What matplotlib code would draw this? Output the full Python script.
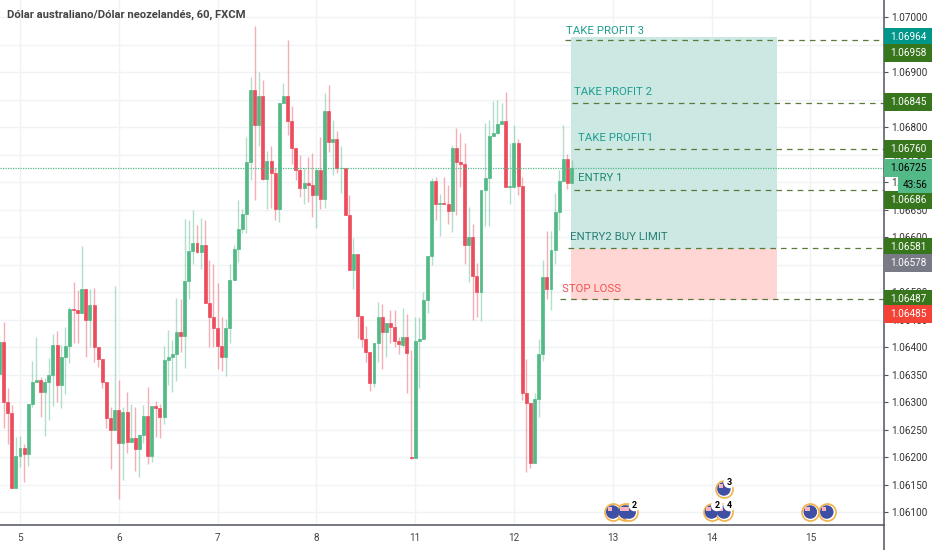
import numpy as np
import matplotlib
matplotlib.use('Agg')
import matplotlib.pyplot as plt
from matplotlib.patches import Rectangle
from matplotlib.lines import Line2D

plt.rcParams['font.family'] = ['Roboto', 'DejaVu Sans']

# prices as points above 1.00000, one entry per hourly bar
opens = [6352,6409,6301,6280,6143,6202,6216,6206,6296,6336,
         6340,6319,6336,6350,6403,6331,6382,6402,6470,6467,
         6462,6505,6449,6477,6400,6379,6337,6271,6249,6285,
         6226,6282,6228,6235,6215,6240,6274,6202,6293,6289,
         6273,6376,6382,6387,6428,6421,6521,6574,6589,6573,
         6586,6481,6455,6435,6402,6382,6435,6522,6578,6615,
         6642,6736,6867,6804,6857,6706,6738,6716,6651,6844,
         6856,6812,6762,6722,6689,6698,6695,6677,6722,6669,
         6830,6774,6778,6725,6725,6641,6541,6569,6456,6414,
         6391,6335,6408,6454,6428,6444,6436,6411,6403,6419,
         6200,6198,6411,6414,6485,6566,6703,6660,6662,6661,
         6647,6763,6737,6734,6585,6600,6529,6501,6686,6707,
         6784,6789,6806,6812,6692,6692,6771,6694,6317,6299,
         6190,6305,6388,6528,6505,6576,6646,6702,6743,6699]
closes = [6409,6301,6280,6143,6202,6216,6206,6296,6336,6340,
          6319,6336,6350,6403,6331,6382,6402,6470,6467,6462,
          6505,6449,6477,6400,6379,6337,6271,6249,6285,6226,
          6282,6228,6235,6215,6240,6274,6202,6293,6289,6273,
          6376,6382,6387,6428,6421,6521,6574,6589,6573,6586,
          6481,6455,6435,6402,6382,6435,6522,6578,6615,6642,
          6736,6867,6804,6857,6706,6738,6716,6651,6844,6856,
          6812,6762,6722,6689,6698,6695,6677,6722,6669,6830,
          6774,6778,6725,6726,6641,6541,6569,6456,6414,6391,
          6335,6408,6454,6428,6444,6436,6411,6405,6419,6390,
          6198,6411,6414,6485,6566,6703,6660,6662,6660,6647,
          6763,6737,6734,6585,6600,6529,6501,6686,6707,6784,
          6789,6806,6812,6692,6693,6771,6694,6317,6299,6190,
          6305,6388,6528,6505,6576,6646,6702,6743,6699,6725]
highs = [6420,6445,6325,6294,6237,6238,6223,6296,6374,6419,
         6346,6343,6381,6423,6429,6403,6437,6473,6518,6504,
         6584,6505,6505,6507,6400,6379,6337,6291,6512,6340,
         6291,6319,6296,6291,6240,6294,6328,6293,6302,6296,
         6402,6431,6413,6489,6487,6633,6631,6650,6622,6634,
         6632,6558,6552,6516,6455,6452,6552,6586,6668,6652,
         6783,6891,6984,6901,6886,6757,6765,6725,6844,6880,
         6959,6839,6762,6749,6725,6746,6754,6725,6783,6863,
         6876,6813,6793,6766,6725,6677,6598,6569,6456,6438,
         6391,6408,6482,6478,6444,6467,6467,6419,6472,6461,
         6394,6455,6455,6501,6566,6707,6710,6678,6709,6695,
         6768,6799,6789,6772,6655,6624,6553,6686,6808,6813,
         6848,6850,6844,6865,6771,6805,6778,6710,6379,6299,
         6317,6414,6559,6612,6612,6681,6722,6804,6751,6740]
lows = [6340,6252,6223,6143,6143,6182,6155,6184,6291,6336,
        6273,6239,6268,6293,6300,6290,6314,6371,6407,6407,
        6462,6382,6400,6373,6364,6325,6252,6179,6249,6124,
        6158,6208,6228,6175,6163,6225,6187,6191,6237,6235,
        6260,6331,6319,6339,6391,6362,6487,6552,6572,6543,
        6481,6400,6400,6361,6357,6347,6407,6522,6554,6607,
        6607,6704,6668,6766,6704,6652,6654,6631,6628,6844,
        6786,6734,6704,6674,6661,6664,6636,6617,6652,6654,
        6755,6713,6716,6680,6641,6541,6505,6416,6400,6373,
        6320,6328,6373,6361,6382,6407,6400,6388,6400,6316,
        6197,6198,6326,6414,6462,6549,6631,6603,6660,6624,
        6610,6640,6692,6551,6519,6450,6454,6447,6621,6621,
        6784,6788,6806,6692,6660,6692,6677,6303,6173,6180,
        6190,6273,6375,6487,6467,6551,6613,6702,6688,6699]

# x axis: bar number of each day label
day_bars = [5, 29, 53, 77, 101, 125, 149, 173, 197]
day_labels = ['5', '6', '7', '8', '11', '12', '13', '14', '15']

price_ticks = [1.07, 1.069, 1.068, 1.0675, 1.067, 1.0665, 1.066, 1.065, 1.0645,
               1.064, 1.0635, 1.063, 1.0625, 1.062, 1.0615, 1.061]
grid_prices = np.arange(1.061, 1.0701, 0.0005)

# trade levels (dashed): price, bar where the line starts
level_prices = [1.06958, 1.06845, 1.06760, 1.06686, 1.06581, 1.06487]
level_starts = [137.4, 139.1, 139.6, 139.6, 138.1, 136.1]
last_price = 1.06725

# position boxes
box_left, box_right = 138.8, 188.9
box_top, box_mid, box_bottom = 1.06964, 1.06578, 1.06485

notes = ['TAKE PROFIT 3', 'TAKE PROFIT 2', 'TAKE PROFIT1', 'ENTRY 1', 'ENTRY2 BUY LIMIT', 'STOP LOSS']
note_prices = [1.06976, 1.06864, 1.06781, 1.06707, 1.06601, 1.06506]
note_bars = [137.6, 139.5, 140.5, 140.5, 138.5, 136.6]
note_colors = ['#1f9d8f', '#1f9d8f', '#1f9d8f', '#1b8a6f', '#2a7f75', '#ef5350']

# calendar events at the bottom
event_bars = [149, 152, 153, 173, 176, 176, 197, 201]
event_prices = [1.061, 1.061, 1.061, 1.061, 1.061, 1.06142, 1.061, 1.061]
event_counts = ['', '', '2', '2', '4', '3', '', '']

# price scale badges: text, centre y in pixels, fill, text colour
badge_text = ['1.06964', '1.06958', '1.06845', '1.06760', '1.06725', '1.06686', '1.06581', '1.06578', '1.06487', '1.06485']
badge_y = [37.3, 52.5, 102, 149, 168, 200, 247, 263, 298.5, 314]
badge_fill = ['#00968a', '#38761d', '#38761d', '#38761d', '#53b987', '#38761d', '#38761d', '#787b86', '#38761d', '#f44336']
badge_ink = ['white', 'white', 'white', 'white', 'black', 'white', 'white', 'white', 'white', 'white']

W, H = 932, 550
BG_GRID = '#f0f3f6'
UP, DOWN = '#53b987', '#eb4d5c'
AXIS = '#50535e'

opens = 1 + np.array(opens) / 1e5
closes = 1 + np.array(closes) / 1e5
highs = 1 + np.array(highs) / 1e5
lows = 1 + np.array(lows) / 1e5
bars = np.arange(len(opens))
colors = [UP if c >= o else DOWN for o, c in zip(opens, closes)]

fig = plt.figure(figsize=(W / 100, H / 100), dpi=100)
ax = fig.add_axes([0, 25 / H, 884 / W, 525 / H])
ax.set_xlim(0.142, 214.9)
ax.set_ylim(1.060764, 1.070315)

# grid
for p in grid_prices:
    ax.axhline(p, color=BG_GRID, lw=1.0, zorder=0)
for d in day_bars:
    ax.axvline(d, color=BG_GRID, lw=1.0, zorder=0)

# position boxes
ax.add_patch(Rectangle((box_left, box_mid), box_right - box_left, box_top - box_mid,
                       fc='#cbe8e3', ec='none', zorder=1))
ax.add_patch(Rectangle((box_left, box_bottom), box_right - box_left, box_mid - box_bottom,
                       fc='#ffd6d4', ec='none', zorder=1))

# candles
ax.vlines(bars, lows, highs, colors=colors, lw=1.0, alpha=0.45, zorder=2)
ax.bar(bars, np.abs(closes - opens), bottom=np.minimum(opens, closes), width=0.72,
       color=colors, edgecolor=colors, lw=0.5, zorder=3)

# last price and trade levels
ax.axhline(last_price, color='#53b987', lw=0.9, ls=(0, (1, 1)), zorder=4)
for p, s in zip(level_prices, level_starts):
    ax.plot([s, 214.9], [p, p], color='#5b7a3a', lw=0.9, ls=(0, (4.5, 4)), zorder=4)

for t, p, b, c in zip(notes, note_prices, note_bars, note_colors):
    ax.text(b, p, t, color=c, fontsize=8.2, va='center', ha='left', zorder=5)

# events
ax.scatter(event_bars, event_prices, s=150, c='white', edgecolors='#f2b24a', linewidths=1.2, zorder=5)
ax.scatter(event_bars, event_prices, s=95, c='#3f4fa3', edgecolors='none', zorder=6)
ax.scatter(np.array(event_bars) - 0.7, np.array(event_prices) + 0.00005, s=10, c='#f7b5c0',
           marker='s', edgecolors='none', zorder=7)
for b, p, n in zip(event_bars, event_prices, event_counts):
    if n:
        ax.text(b + 1.3, p + 0.00012, n, fontsize=6.5, fontweight='bold', color='black', ha='center',
                va='center', zorder=8,
                bbox=dict(boxstyle='circle,pad=0.15', fc='white', ec='none'))

# axes
ax.set_xticks(day_bars)
ax.set_xticklabels(day_labels)
ax.tick_params(axis='x', length=0, pad=6, labelsize=7.2, labelcolor='#444444')
ax.yaxis.tick_right()
ax.set_yticks(price_ticks)
ax.set_yticklabels(['%.5f' % p for p in price_ticks])
ax.tick_params(axis='y', length=3, width=0.8, color=AXIS, pad=2, labelsize=7.2, labelcolor='#333333')
for s in ['top', 'left', 'right', 'bottom']:
    ax.spines[s].set_visible(False)
ax.spines['bottom'].set_visible(True)
ax.spines['bottom'].set_color(AXIS)
ax.spines['bottom'].set_linewidth(1.1)
fig.add_artist(Line2D([883.5 / W, 883.5 / W], [0, 1], color=AXIS, lw=1.1, transform=fig.transFigure))

# price scale badges
for t, y, f, i in zip(badge_text, badge_y, badge_fill, badge_ink):
    fig.add_artist(Rectangle((884 / W, 1 - (y + 9) / H), 48 / W, 18 / H, fc=f, ec='none',
                             transform=fig.transFigure, zorder=6))
    fig.text(908 / W, 1 - y / H, t, color=i, fontsize=7.2, ha='center', va='center', zorder=7)
fig.add_artist(Rectangle((898 / W, 1 - 192.5 / H), 34 / W, 17 / H, fc='#53b987', ec='none',
                         transform=fig.transFigure, zorder=6))
fig.text(915 / W, 1 - 184.5 / H, '43:56', color='black', fontsize=7.2, ha='center', va='center', zorder=7)

fig.text(7 / W, 1 - 15 / H, 'Dólar australiano/Dólar neozelandés, 60, FXCM', fontsize=8.1,
         fontweight='bold', color='#444444', va='center', ha='left')

fig.savefig('out.png', dpi=100)
